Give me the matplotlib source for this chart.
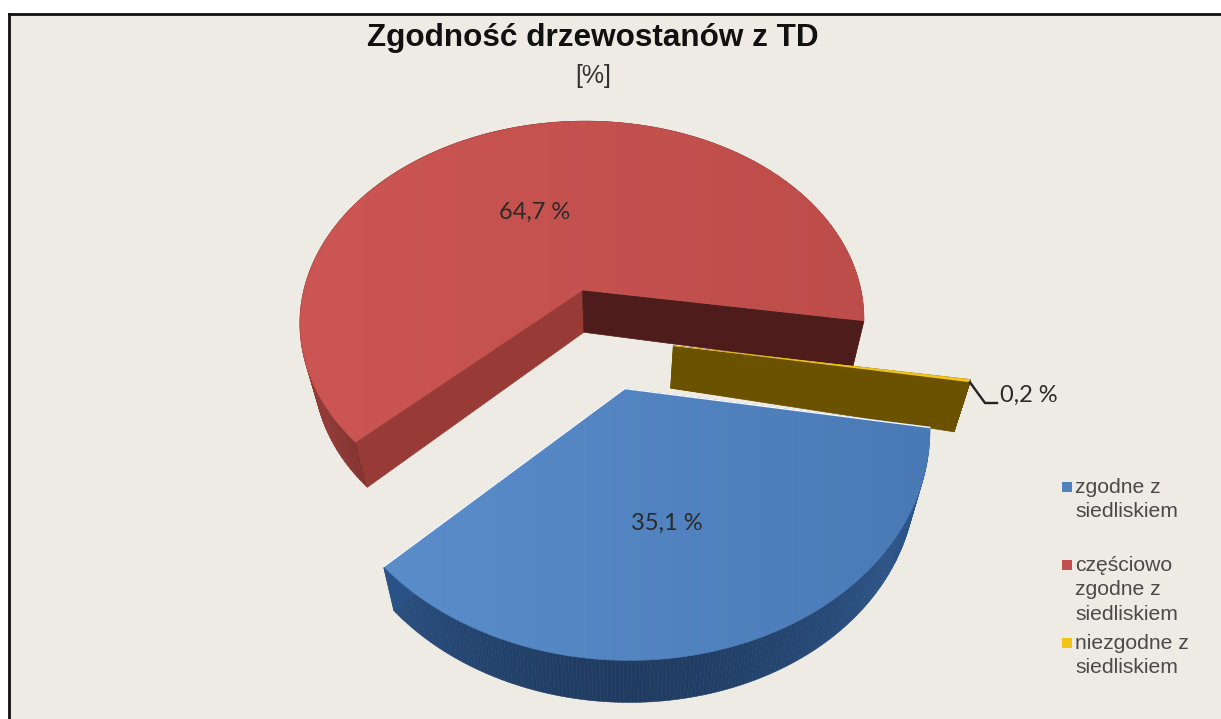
import numpy as np
import matplotlib
matplotlib.use("Agg")
import matplotlib.pyplot as plt
from matplotlib.colors import LinearSegmentedColormap
from matplotlib.patches import Polygon, Rectangle

# Chart content
title = "Zgodność drzewostanów z TD"
subtitle = "[%]"
categories = ["zgodne z\nsiedliskiem", "częściowo\nzgodne z\nsiedliskiem", "niezgodne z\nsiedliskiem"]
shares = [35.1, 64.7, 0.2]
top_colors = [("#5a8dca", "#4a7ab6"), ("#cc5654", "#bd4d4a"), ("#f2c51d", "#f2c51d")]
legend_colors = ["#4f81bd", "#c0504d", "#f2c314"]
wall_colors = ["#2b5286", "#8c3633", "#6b5200"]
near_cut_colors = ["#2b5286", "#983b37", "#6b5200"]
far_cut_colors = ["#2b5286", "#4e1c1a", "#6b5200"]

BG = "#eeebe4"
START_DEG = 9.6      # clockwise from the +X axis of the pie plane
EXPLODE = 0.245
X0, Y0, RX, RY, PERSP = 603.0, 337.5, 289.0, 210.0, -0.16
BOTTOM_SCALE, BOTTOM_X0, BOTTOM_DY, BOTTOM_FLARE = 0.955, 603.5, 42.0, 5.0


def project(x, y, bottom=False):
    """Perspective projection from the pie plane to figure pixels."""
    x, y = np.asarray(x, float), np.asarray(y, float)
    d = 1 + PERSP * y
    if bottom:
        return (BOTTOM_X0 + BOTTOM_SCALE * RX * x / d,
                Y0 + BOTTOM_DY + BOTTOM_FLARE * x ** 2 + RY * y / d)
    return X0 + RX * x / d, Y0 + RY * y / d


fig = plt.figure(figsize=(12.21, 7.19), dpi=100, facecolor="white")
ax = fig.add_axes([0, 0, 1, 1])
ax.set_xlim(0, 1221)
ax.set_ylim(719, 0)
ax.axis("off")

# Chart area with a dark frame on its top and left
ax.add_patch(Rectangle((9, 14), 1221, 719, facecolor=BG, edgecolor="none", zorder=0))
ax.plot([9, 9], [719, 14], color="#111111", lw=2.0, zorder=1, solid_capstyle="projecting")
ax.plot([9, 1221], [14, 14], color="#111111", lw=2.0, zorder=1, solid_capstyle="projecting")

spans = np.array(shares) / sum(shares) * 360.0
starts = START_DEG + np.concatenate([[0], np.cumsum(spans)[:-1]])
geometry = []
for a0, span in zip(starts, spans):
    mid = np.radians(a0 + span / 2)
    geometry.append((a0, span, EXPLODE * np.cos(mid), EXPLODE * np.sin(mid)))


def rim(i, n=200):
    a0, span, cx, cy = geometry[i]
    t = np.radians(np.linspace(a0, a0 + span, n))
    return cx + np.cos(t), cy + np.sin(t), t


def draw_slice(i, z):
    a0, span, cx, cy = geometry[i]
    x, y, t = rim(i)
    tx, ty = project(x, y)
    bx, by = project(x, y, bottom=True)
    ax_t, ay_t = project(cx, cy)
    ax_b, ay_b = project(cx, cy, bottom=True)

    # Cut face at the start of the sweep
    ax.add_patch(Polygon([(ax_t, ay_t), (tx[0], ty[0]), (bx[0], by[0]), (ax_b, ay_b)],
                         facecolor=near_cut_colors[i], edgecolor=near_cut_colors[i], lw=0.5, zorder=z))

    # Outer wall, darkest where it faces the viewer
    base = np.array(matplotlib.colors.to_rgb(wall_colors[i]))
    for j in range(len(t) - 1):
        shade = 0.72 + 0.38 * abs(np.cos(t[j])) ** 1.5
        col = np.clip(base * shade, 0, 1)
        ax.add_patch(Polygon([(tx[j], ty[j]), (tx[j + 1], ty[j + 1]), (bx[j + 1], by[j + 1]), (bx[j], by[j])],
                             facecolor=col, edgecolor=col, lw=0.4, zorder=z + 0.1))

    # Cut face at the end of the sweep, in front of the wall
    ax.add_patch(Polygon([(ax_t, ay_t), (tx[-1], ty[-1]), (bx[-1], by[-1]), (ax_b, ay_b)],
                         facecolor=far_cut_colors[i], edgecolor=far_cut_colors[i], lw=0.5, zorder=z + 0.2))

    # Top face with a soft left-to-right gradient
    outline = np.column_stack([np.r_[ax_t, tx], np.r_[ay_t, ty]])
    face = Polygon(outline, facecolor="none", edgecolor="none", zorder=z + 0.3)
    ax.add_patch(face)
    cmap = LinearSegmentedColormap.from_list("face", top_colors[i])
    img = ax.imshow(np.linspace(0, 1, 256).reshape(1, -1), cmap=cmap, aspect="auto",
                    extent=(outline[:, 0].min(), outline[:, 0].max(),
                            outline[:, 1].max(), outline[:, 1].min()), zorder=z + 0.3)
    img.set_clip_path(face)
    ax.plot(outline[:, 0], outline[:, 1], color=top_colors[i][1], lw=0.5, zorder=z + 0.35)
    return tx, ty, (ax_t, ay_t)


# Back-to-front: red, yellow, blue
draw_slice(1, 2)
yx, yy, _ = draw_slice(2, 3)
bx_, by_, apex = draw_slice(0, 4)

# Pale highlight along the blue slice's cut edges
ax.plot([bx_[0], apex[0], bx_[-1]], [by_[0], apex[1], by_[-1]], color="#f7fbff", lw=1.0, zorder=4.5)

ax.set_xlim(0, 1221)
ax.set_ylim(719, 0)

# Titles
ax.text(593, 38, title, ha="center", va="center", fontsize=22.7, fontweight="bold",
        family="Liberation Sans", color="#111111", zorder=6)
ax.text(593, 76, subtitle, ha="center", va="center", fontsize=18,
        family="Liberation Sans", color="#333333", zorder=6)

# Value labels
label_pos = [(667, 523), (535, 212), (1029, 395)]
for share, (lx, ly) in zip(shares, label_pos):
    ax.text(lx, ly, f"{share:.1f} %".replace(".", ","), ha="center", va="center",
            fontsize=17, family="Lato", color="#2a2a2a", zorder=6)

# Leader line from the thin slice to its label
tip_x, tip_y = yx[-1], yy[-1]
ax.plot([tip_x, 985, 997], [tip_y, 403, 403], color="#222222", lw=1.7, zorder=6)

# Legend
legend_y = [487, 565, 643]
for name, col, ly in zip(categories, legend_colors, legend_y):
    ax.scatter([1067], [ly], marker="s", s=50, color=col, zorder=6, linewidths=0)
    ax.text(1075, ly - 9, name, ha="left", va="top", fontsize=15.2, linespacing=1.365,
            family="Liberation Sans", color="#4a4a4a", zorder=6)

fig.savefig("out.png", dpi=100, facecolor="white")
